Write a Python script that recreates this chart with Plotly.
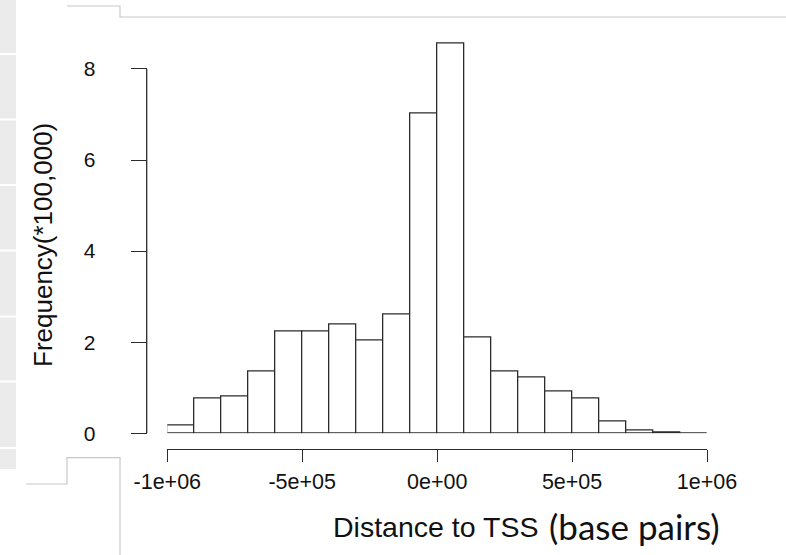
import plotly.graph_objects as go

# ---- data ----
bin_left = [-1000000, -900000, -800000, -700000, -600000, -500000, -400000,
            -300000, -200000, -100000, 0, 100000, 200000, 300000, 400000,
            500000, 600000, 700000, 800000, 900000]
bin_width = 100000
freq = [0.17, 0.77, 0.82, 1.36, 2.24, 2.24, 2.40, 2.04, 2.62, 7.02,
        8.55, 2.11, 1.36, 1.23, 0.93, 0.77, 0.26, 0.06, 0.015, 0.003]
x_tickvals = [-1000000, -500000, 0, 500000, 1000000]
x_ticktext = ["-1e+06", "-5e+05", "0e+00", "5e+05", "1e+06"]
y_tickvals = [0, 2, 4, 6, 8]
y_ticktext = ["0", "2", "4", "6", "8"]

W, H = 786, 555
def px(x):
    return x / W
def py(y):
    return 1 - y / H

AX = "#2b2b2b"
centers = [b + bin_width / 2 for b in bin_left]

fig = go.Figure()
fig.add_trace(go.Bar(
    x=centers, y=freq, width=bin_width,
    marker=dict(color="white", line=dict(color=AX, width=1.3)),
    showlegend=False, hoverinfo="x+y",
))

y0_px = 433.3
unit = 45.54
ymax = 9
ytop_px = y0_px - ymax * unit

shapes = []
# left gray strip (background decoration)
shapes.append(dict(type="rect", xref="paper", yref="paper", x0=0, x1=px(16),
                   y0=py(469), y1=1, fillcolor="#ebebeb", line=dict(width=0), layer="below"))
for s in [54, 119.5, 185, 250.5, 316.5, 381.5, 448]:
    shapes.append(dict(type="line", xref="paper", yref="paper", x0=0, x1=px(16),
                       y0=py(s), y1=py(s), line=dict(color="white", width=2), layer="below"))
# thin gray frame lines
shapes.append(dict(type="path", xref="paper", yref="paper",
                   path=f"M {px(67)},{py(6)} L {px(120)},{py(6)} L {px(120)},{py(17)} L {px(786)},{py(17)}",
                   line=dict(color="#c8c8c8", width=1.2)))
shapes.append(dict(type="path", xref="paper", yref="paper",
                   path=f"M {px(26)},{py(484)} L {px(67)},{py(484)} L {px(67)},{py(457.7)} L {px(120)},{py(457.7)} L {px(120)},{py(555)}",
                   line=dict(color="#c8c8c8", width=1.2)))
# y-axis line from 0 to 8 (R style)
shapes.append(dict(type="line", xref="paper", yref="y", x0=px(146.7), x1=px(146.7),
                   y0=0, y1=8, line=dict(color=AX, width=1.3)))

fig.update_layout(
    width=W, height=H, autosize=False,
    margin=dict(l=0, r=0, t=0, b=0, pad=0, autoexpand=False),
    paper_bgcolor="white", plot_bgcolor="white",
    font=dict(family="Liberation Sans, Arial, sans-serif", color="#111"),
    shapes=shapes,
    bargap=0,
    xaxis=dict(
        domain=[px(167.3), px(707)], range=[-1000000, 1000000],
        anchor="free", position=py(449.3), automargin=False,
        showline=True, linecolor=AX, linewidth=1.3,
        ticks="outside", ticklen=12, tickcolor=AX, tickwidth=1.3,
        tickvals=x_tickvals, ticktext=x_ticktext,
        tickfont=dict(size=21.5), ticklabelstandoff=1,
        showgrid=False, zeroline=False,
    ),
    yaxis=dict(
        domain=[py(y0_px), py(ytop_px)], range=[0, ymax],
        anchor="free", position=px(146.7), automargin=False,
        showline=False,
        ticks="outside", ticklen=16, tickcolor=AX, tickwidth=1.3,
        tickvals=y_tickvals, ticktext=y_ticktext,
        tickfont=dict(size=21), ticklabelstandoff=31,
        showgrid=False, zeroline=False,
    ),
    annotations=[
        dict(text="Frequency(*100,000)", xref="paper", yref="paper",
             x=px(43), y=py(245), xanchor="center", yanchor="middle",
             textangle=-90, showarrow=False,
             font=dict(size=26, family="Liberation Sans, Arial, sans-serif", color="#111")),
        dict(text="Distance to TSS", xref="paper", yref="paper",
             x=px(331), y=py(527), xanchor="left", yanchor="middle",
             showarrow=False,
             font=dict(size=28.5, family="Liberation Sans, Arial, sans-serif", color="#111")),
        dict(text="(base pairs)", xref="paper", yref="paper",
             x=px(547), y=py(526), xanchor="left", yanchor="middle",
             showarrow=False,
             font=dict(size=35, family="Lato, Carlito, sans-serif", color="#111")),
    ],
)

fig.write_html("out.html",
               config={"displayModeBar": False},
               post_script="document.body.style.margin='0';document.body.style.overflow='hidden';")
